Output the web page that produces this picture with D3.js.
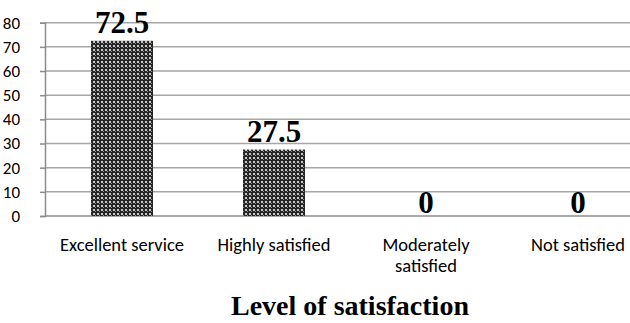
<!DOCTYPE html>
<html><head><meta charset="utf-8">
<script src="https://cdn.jsdelivr.net/npm/d3@7"></script>
<style>body{margin:0;background:#fff}svg{display:block}</style>
</head><body>
<svg id="c" width="630" height="323"></svg>
<script>
const categories = ["Excellent service", "Highly satisfied", "Moderately satisfied", "Not satisfied"];
const categoryLines = [["Excellent service"], ["Highly satisfied"], ["Moderately", "satisfied"], ["Not satisfied"]];
const values = [72.5, 27.5, 0, 0];
const valueLabels = ["72.5", "27.5", "0", "0"];
const yTicks = [0, 10, 20, 30, 40, 50, 60, 70, 80];
const xTitle = "Level of satisfaction";

const svg = d3.select("#c");
const defs = svg.append("defs");
const pat = defs.append("pattern").attr("id","hatch").attr("patternUnits","userSpaceOnUse")
  .attr("width",4).attr("height",4);
pat.append("rect").attr("width",4).attr("height",4).attr("fill","#262626");
pat.append("rect").attr("x",1).attr("y",1).attr("width",2).attr("height",2).attr("fill","#c8c8c8");
pat.append("rect").attr("x",3).attr("y",3).attr("width",1).attr("height",1).attr("fill","#8a8a8a");

const x = d3.scaleBand().domain(categories).range([46, 654]).paddingInner(0.592).paddingOuter(0.296);
const y = d3.scaleLinear().domain([0, 80]).range([216, 22.7]);

// gridlines
svg.append("g").selectAll("line").data(yTicks.filter(t=>t>0)).join("line")
  .attr("x1",45).attr("x2",630).attr("y1",d=>y(d)).attr("y2",d=>y(d))
  .attr("stroke","#a6a6a6").attr("stroke-width",1.5);

// y axis
const ya = d3.axisLeft(y).tickValues(yTicks).tickSize(5).tickPadding(20).tickFormat(d3.format("d"));
const gy = svg.append("g").attr("transform","translate(45,0)").call(ya);
gy.select(".domain").attr("stroke","#8c8c8c").attr("stroke-width",1.5);
gy.selectAll(".tick line").attr("stroke","#8c8c8c").attr("stroke-width",1.5);
gy.selectAll(".tick text").attr("font-family","Carlito, Calibri, 'Open Sans', sans-serif").attr("font-size",17).attr("fill","#000");

// x baseline
svg.append("line").attr("x1",45).attr("x2",630).attr("y1",y(0)).attr("y2",y(0))
  .attr("stroke","#8c8c8c").attr("stroke-width",1.5);

// bars
svg.append("g").selectAll("rect").data(values).join("rect")
  .attr("x",(d,i)=>x(categories[i])).attr("width",x.bandwidth())
  .attr("y",d=>y(d)).attr("height",d=>y(0)-y(d))
  .attr("fill","url(#hatch)");

// value labels
svg.append("g").selectAll("text").data(values).join("text")
  .attr("x",(d,i)=>x(categories[i])+x.bandwidth()/2)
  .attr("y",d=>d>0 ? y(d)-8 : y(d)-3)
  .attr("text-anchor","middle")
  .attr("font-family","'Liberation Serif', 'Times New Roman', serif")
  .attr("font-weight","bold").attr("font-size",31).attr("fill","#000")
  .text((d,i)=>valueLabels[i]);

// category labels
const cg = svg.append("g");
categories.forEach((c,i)=>{
  const t = cg.append("text").attr("text-anchor","middle")
    .attr("font-family","Carlito, Calibri, 'Open Sans', sans-serif").attr("font-size",18.5).attr("fill","#000");
  categoryLines[i].forEach((ln,j)=>{
    t.append("tspan").attr("x",x(c)+x.bandwidth()/2).attr("y",251+j*21).text(ln);
  });
});

// title
svg.append("text").attr("x",350).attr("y",315).attr("text-anchor","middle")
  .attr("font-family","'Liberation Serif', 'Times New Roman', serif")
  .attr("font-weight","bold").attr("font-size",28).attr("fill","#000").text(xTitle);
</script>
</body></html>
